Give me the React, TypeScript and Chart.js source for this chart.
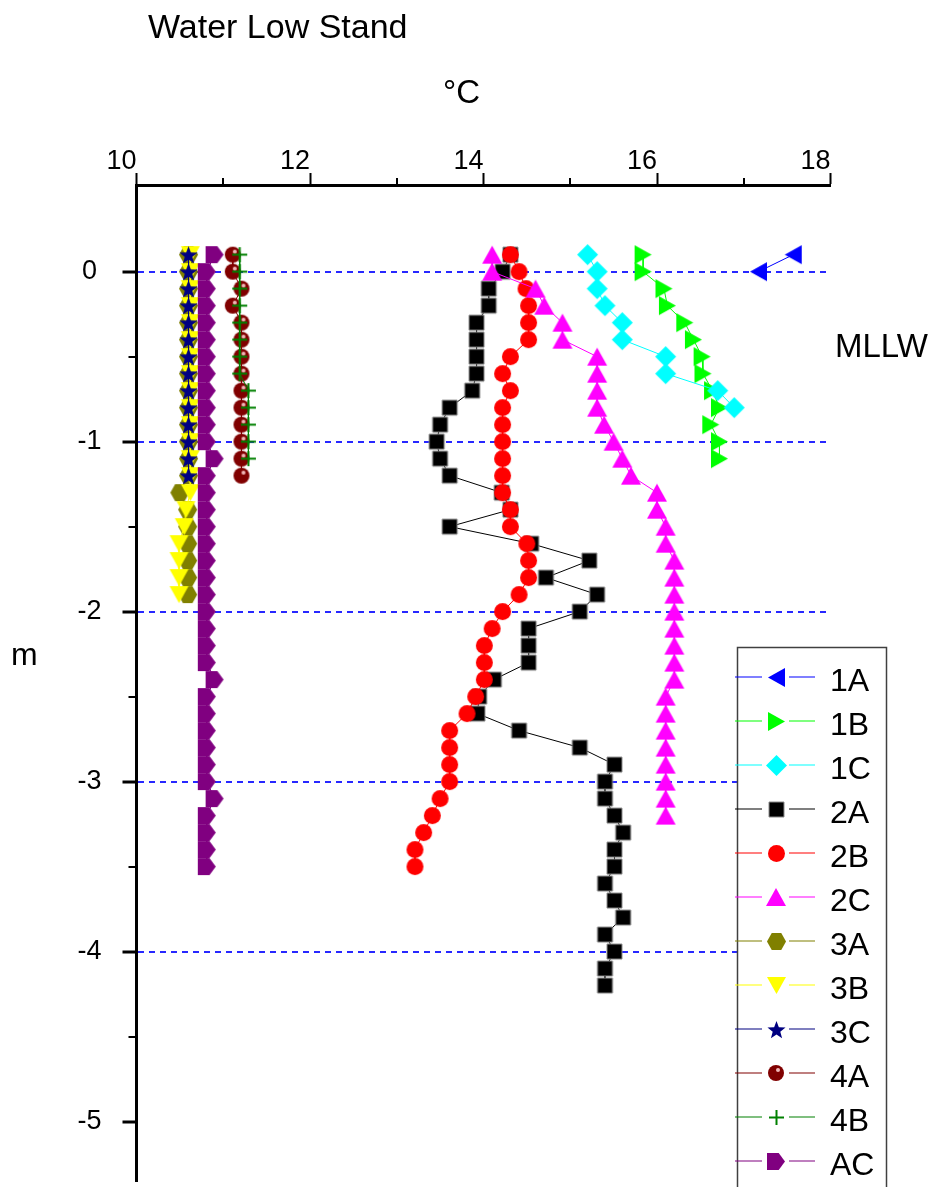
import React, { useEffect, useRef } from 'react';
import { Chart, registerables } from 'chart.js';

Chart.register(...registerables);

const FONT = '"Liberation Sans", Arial, Helvetica, sans-serif';

// ---- axes / labels ----
const titleText = 'Water Low Stand';
const xAxisTitle = '°C';
const yAxisTitle = 'm';
const refLabel = 'MLLW';
const xTicks = [10, 12, 14, 16, 18];
const xMinorTicks = [11, 13, 15, 17];
const yTicks = [0, -1, -2, -3, -4, -5];
const yMinorTicks = [-0.5, -1.5, -2.5, -3.5, -4.5];
const gridDepths = [0, -1, -2, -3, -4];

// ---- series (temperature °C, depth m) ----
const t1A = [17.57, 17.17];
const d1A = [0.1, 0];

const t1B = [15.84, 15.84, 16.08, 16.12, 16.32, 16.42, 16.52, 16.53, 16.64, 16.72, 16.62, 16.72, 16.72];
const d1B = [0.1, 0, -0.1, -0.2, -0.3, -0.4, -0.5, -0.6, -0.7, -0.8, -0.9, -1.0, -1.1];

const t1C = [15.2, 15.31, 15.31, 15.4, 15.6, 15.6, 16.1, 16.1, 16.7, 16.89];
const d1C = [0.1, 0, -0.1, -0.2, -0.3, -0.4, -0.5, -0.6, -0.7, -0.8];

const t2A = [14.31, 14.22, 14.06, 14.06, 13.92, 13.92, 13.92, 13.92, 13.87, 13.61, 13.5, 13.46, 13.5, 13.61, 14.21, 14.31, 13.61, 14.55, 15.22, 14.72, 15.31, 15.11, 14.52, 14.52, 14.52, 14.12, 13.95, 13.93, 14.41, 15.11, 15.51, 15.4, 15.4, 15.51, 15.61, 15.51, 15.51, 15.4, 15.51, 15.61, 15.4, 15.51, 15.4, 15.4];
const d2A = [0.1, 0, -0.1, -0.2, -0.3, -0.4, -0.5, -0.6, -0.7, -0.8, -0.9, -1.0, -1.1, -1.2, -1.3, -1.4, -1.5, -1.6, -1.7, -1.8, -1.9, -2.0, -2.1, -2.2, -2.3, -2.4, -2.5, -2.6, -2.7, -2.8, -2.9, -3.0, -3.1, -3.2, -3.3, -3.4, -3.5, -3.6, -3.7, -3.8, -3.9, -4.0, -4.1, -4.2];

const t2B = [14.31, 14.41, 14.49, 14.52, 14.52, 14.52, 14.31, 14.22, 14.31, 14.22, 14.22, 14.22, 14.22, 14.22, 14.22, 14.31, 14.31, 14.5, 14.52, 14.52, 14.41, 14.22, 14.1, 14.01, 14.01, 14.01, 13.91, 13.81, 13.61, 13.61, 13.61, 13.61, 13.5, 13.41, 13.31, 13.21, 13.21];
const d2B = [0.1, 0, -0.1, -0.2, -0.3, -0.4, -0.5, -0.6, -0.7, -0.8, -0.9, -1.0, -1.1, -1.2, -1.3, -1.4, -1.5, -1.6, -1.7, -1.8, -1.9, -2.0, -2.1, -2.2, -2.3, -2.4, -2.5, -2.6, -2.7, -2.8, -2.9, -3.0, -3.1, -3.2, -3.3, -3.4, -3.5];

const t2C = [14.1, 14.1, 14.6, 14.7, 14.91, 14.91, 15.31, 15.31, 15.31, 15.31, 15.39, 15.5, 15.6, 15.7, 16.0, 16.0, 16.1, 16.1, 16.2, 16.2, 16.2, 16.2, 16.2, 16.2, 16.2, 16.2, 16.1, 16.1, 16.1, 16.1, 16.1, 16.1, 16.1, 16.1];
const d2C = [0.1, 0, -0.1, -0.2, -0.3, -0.4, -0.5, -0.6, -0.7, -0.8, -0.9, -1.0, -1.1, -1.2, -1.3, -1.4, -1.5, -1.6, -1.7, -1.8, -1.9, -2.0, -2.1, -2.2, -2.3, -2.4, -2.5, -2.6, -2.7, -2.8, -2.9, -3.0, -3.1, -3.2];

const t3A = [10.6, 10.6, 10.6, 10.6, 10.6, 10.6, 10.6, 10.6, 10.6, 10.6, 10.6, 10.6, 10.6, 10.6, 10.5, 10.59, 10.59, 10.59, 10.59, 10.59, 10.59];
const d3A = [0.1, 0, -0.1, -0.2, -0.3, -0.4, -0.5, -0.6, -0.7, -0.8, -0.9, -1.0, -1.1, -1.2, -1.3, -1.4, -1.5, -1.6, -1.7, -1.8, -1.9];

const t3B = [10.62, 10.62, 10.62, 10.62, 10.62, 10.62, 10.62, 10.62, 10.62, 10.62, 10.62, 10.62, 10.62, 10.62, 10.62, 10.57, 10.55, 10.49, 10.49, 10.49, 10.49];
const d3B = [0.1, 0, -0.1, -0.2, -0.3, -0.4, -0.5, -0.6, -0.7, -0.8, -0.9, -1.0, -1.1, -1.2, -1.3, -1.4, -1.5, -1.6, -1.7, -1.8, -1.9];

const t3C = [10.6, 10.6, 10.6, 10.6, 10.6, 10.6, 10.6, 10.6, 10.6, 10.6, 10.6, 10.6, 10.6, 10.6];
const d3C = [0.1, 0, -0.1, -0.2, -0.3, -0.4, -0.5, -0.6, -0.7, -0.8, -0.9, -1.0, -1.1, -1.2];

const t4A = [11.11, 11.11, 11.21, 11.11, 11.21, 11.21, 11.21, 11.21, 11.21, 11.21, 11.21, 11.21, 11.21, 11.21];
const d4A = [0.1, 0, -0.1, -0.2, -0.3, -0.4, -0.5, -0.6, -0.7, -0.8, -0.9, -1.0, -1.1, -1.2];

const t4B = [11.19, 11.19, 11.19, 11.19, 11.19, 11.19, 11.19, 11.19, 11.29, 11.29, 11.29, 11.29, 11.29];
const d4B = [0.1, 0, -0.1, -0.2, -0.3, -0.4, -0.5, -0.6, -0.7, -0.8, -0.9, -1.0, -1.1];

const tAC = [10.9, 10.81, 10.81, 10.81, 10.81, 10.81, 10.81, 10.81, 10.81, 10.81, 10.81, 10.81, 10.9, 10.81, 10.81, 10.81, 10.81, 10.81, 10.81, 10.81, 10.81, 10.81, 10.81, 10.81, 10.81, 10.9, 10.81, 10.81, 10.81, 10.81, 10.81, 10.81, 10.9, 10.81, 10.81, 10.81, 10.81];
const dAC = [0.1, 0, -0.1, -0.2, -0.3, -0.4, -0.5, -0.6, -0.7, -0.8, -0.9, -1.0, -1.1, -1.2, -1.3, -1.4, -1.5, -1.6, -1.7, -1.8, -1.9, -2.0, -2.1, -2.2, -2.3, -2.4, -2.5, -2.6, -2.7, -2.8, -2.9, -3.0, -3.1, -3.2, -3.3, -3.4, -3.5];

const seriesNames = ['1A', '1B', '1C', '2A', '2B', '2C', '3A', '3B', '3C', '4A', '4B', 'AC'];
const seriesTemps = [t1A, t1B, t1C, t2A, t2B, t2C, t3A, t3B, t3C, t4A, t4B, tAC];
const seriesDepths = [d1A, d1B, d1C, d2A, d2B, d2C, d3A, d3B, d3C, d4A, d4B, dAC];

// ---- styles ----
type MarkerSpec = { shape: string; fill: string; w: number; h: number; stroke?: string; line: string };
const markerSpecs: MarkerSpec[] = [
  { shape: 'triL', fill: '#0000ff', w: 17, h: 19, line: '#0000ff' },
  { shape: 'triR', fill: '#00ff00', w: 17, h: 19, line: '#00ff00' },
  { shape: 'diamond', fill: '#00ffff', w: 21, h: 21, line: '#00ffff' },
  { shape: 'square', fill: '#000000', w: 15, h: 15, stroke: '#8a8a8a', line: '#000000' },
  { shape: 'circle', fill: '#ff0000', w: 17, h: 17, line: '#ff0000' },
  { shape: 'triU', fill: '#ff00ff', w: 20, h: 18, line: '#ff00ff' },
  { shape: 'hexagon', fill: '#808000', w: 19, h: 17, line: '#808000' },
  { shape: 'triD', fill: '#ffff00', w: 19, h: 17, line: '#ffff00' },
  { shape: 'star', fill: '#000080', w: 19, h: 19, line: '#000080' },
  { shape: 'ball', fill: '#800000', w: 16, h: 16, line: '#800000' },
  { shape: 'plus', fill: '#008000', w: 15, h: 15, line: '#008000' },
  { shape: 'pentagon', fill: '#800080', w: 18, h: 17, line: '#800080' },
];

function makeMarker(s: MarkerSpec): HTMLCanvasElement {
  const pad = 2;
  const cw = Math.ceil(s.w) + pad * 2;
  const ch = Math.ceil(s.h) + pad * 2;
  const c = document.createElement('canvas');
  c.width = cw;
  c.height = ch;
  const g = c.getContext('2d') as CanvasRenderingContext2D;
  const cx = cw / 2, cy = ch / 2, a = s.w / 2, b = s.h / 2;
  g.fillStyle = s.fill;
  if (s.shape === 'plus') {
    g.strokeStyle = s.fill;
    g.lineWidth = 2;
    g.beginPath();
    g.moveTo(cx - a, cy); g.lineTo(cx + a, cy);
    g.moveTo(cx, cy - b); g.lineTo(cx, cy + b);
    g.stroke();
    return c;
  }
  g.beginPath();
  switch (s.shape) {
    case 'triL': g.moveTo(cx - a, cy); g.lineTo(cx + a, cy - b); g.lineTo(cx + a, cy + b); break;
    case 'triR': g.moveTo(cx + a, cy); g.lineTo(cx - a, cy - b); g.lineTo(cx - a, cy + b); break;
    case 'triU': g.moveTo(cx, cy - b); g.lineTo(cx + a, cy + b); g.lineTo(cx - a, cy + b); break;
    case 'triD': g.moveTo(cx, cy + b); g.lineTo(cx + a, cy - b); g.lineTo(cx - a, cy - b); break;
    case 'diamond': g.moveTo(cx, cy - b); g.lineTo(cx + a, cy); g.lineTo(cx, cy + b); g.lineTo(cx - a, cy); break;
    case 'square': g.rect(cx - a, cy - b, s.w, s.h); break;
    case 'circle':
    case 'ball': g.ellipse(cx, cy, a, b, 0, 0, Math.PI * 2); break;
    case 'hexagon':
      g.moveTo(cx - a, cy); g.lineTo(cx - a / 2, cy - b); g.lineTo(cx + a / 2, cy - b);
      g.lineTo(cx + a, cy); g.lineTo(cx + a / 2, cy + b); g.lineTo(cx - a / 2, cy + b); break;
    case 'pentagon':
      g.moveTo(cx - a, cy - b); g.lineTo(cx + a * 0.3, cy - b); g.lineTo(cx + a, cy);
      g.lineTo(cx + a * 0.3, cy + b); g.lineTo(cx - a, cy + b); break;
    case 'star':
      for (let k = 0; k < 10; k++) {
        const r = k % 2 === 0 ? a : a * 0.42;
        const ang = -Math.PI / 2 + (k * Math.PI) / 5;
        const px = cx + r * Math.cos(ang), py = cy + 1 + r * Math.sin(ang);
        if (k === 0) g.moveTo(px, py); else g.lineTo(px, py);
      }
      break;
  }
  g.closePath();
  g.fill();
  if (s.stroke) {
    g.strokeStyle = s.stroke;
    g.lineWidth = 1;
    g.stroke();
  }
  if (s.shape === 'ball') {
    g.fillStyle = '#f0b8b8';
    g.beginPath();
    g.arc(cx + 2, cy - 3, 2, 0, Math.PI * 2);
    g.fill();
  }
  return c;
}

export default function App() {
  const ref = useRef<HTMLCanvasElement>(null);

  useEffect(() => {
    if (!ref.current) return;
    Chart.defaults.font.family = FONT;
    const markers = markerSpecs.map(makeMarker);

    const datasets = seriesNames.map((name, i) => ({
      label: name,
      data: seriesTemps[i].map((t, j) => ({ x: t, y: seriesDepths[i][j] })),
      showLine: true,
      borderColor: markerSpecs[i].line,
      backgroundColor: markerSpecs[i].fill,
      borderWidth: 1,
      pointStyle: markers[i],
      pointRadius: 6,
      pointHoverRadius: 6,
      pointBorderWidth: 0,
      tension: 0,
      fill: false,
      order: -i,
    }));

    const decor = {
      id: 'decor',
      afterDraw(chart: any) {
        const ctx: CanvasRenderingContext2D = chart.ctx;
        const xs = chart.scales.x;
        const ys = chart.scales.y;
        const area = chart.chartArea;
        ctx.save();
        // minor ticks
        ctx.strokeStyle = '#000';
        ctx.lineWidth = 2;
        xMinorTicks.forEach((v) => {
          const px = Math.round(xs.getPixelForValue(v));
          ctx.beginPath();
          ctx.moveTo(px, area.top - 1);
          ctx.lineTo(px, area.top - 7);
          ctx.stroke();
        });
        yMinorTicks.forEach((v) => {
          const py = Math.round(ys.getPixelForValue(v));
          ctx.beginPath();
          ctx.moveTo(area.left - 1, py);
          ctx.lineTo(area.left - 8, py);
          ctx.stroke();
        });
        // texts
        ctx.fillStyle = '#000';
        ctx.textBaseline = 'alphabetic';
        ctx.textAlign = 'left';
        ctx.font = `34px ${FONT}`;
        ctx.fillText(titleText, 148, 38);
        ctx.font = `33px ${FONT}`;
        ctx.fillText(xAxisTitle, 443, 103);
        ctx.font = `33px ${FONT}`;
        ctx.fillText(refLabel, 835, 357);
        ctx.font = `32px ${FONT}`;
        ctx.fillText(yAxisTitle, 11, 665);

        // legend
        const bx = 737, by = 647, bw = 149;
        ctx.fillStyle = '#ffffff';
        ctx.fillRect(bx, by, bw, 1187 - by + 10);
        ctx.strokeStyle = '#404040';
        ctx.lineWidth = 1.5;
        ctx.strokeRect(bx + 0.5, by + 0.5, bw, 1187 - by + 20);
        seriesNames.forEach((name, i) => {
          const y = 677 + i * 44;
          ctx.strokeStyle = markerSpecs[i].line;
          ctx.lineWidth = 1.2;
          ctx.beginPath();
          ctx.moveTo(735, y); ctx.lineTo(762, y);
          ctx.moveTo(789, y); ctx.lineTo(815, y);
          ctx.stroke();
          const m = markers[i];
          ctx.drawImage(m, Math.round(776 - m.width / 2), Math.round(y - m.height / 2));
          ctx.fillStyle = '#000';
          ctx.font = `32px ${FONT}`;
          ctx.textBaseline = 'middle';
          ctx.fillText(name, 830, y + 5);
        });
        ctx.restore();
      },
    };

    const chart = new Chart(ref.current, {
      type: 'scatter',
      data: { datasets: datasets as any },
      options: {
        responsive: false,
        animation: false,
        devicePixelRatio: 1,
        events: [],
        layout: { padding: { left: 0, right: 107.5, top: 0, bottom: 0 } },
        plugins: { legend: { display: false }, tooltip: { enabled: false } },
        scales: {
          x: {
            type: 'linear',
            position: 'top',
            min: 10,
            max: 18,
            afterBuildTicks: (scale: any) => {
              scale.ticks = xTicks.map((v) => ({ value: v }));
            },
            afterFit: (scale: any) => {
              scale.height = 185;
              scale.paddingLeft = 0;
              scale.paddingRight = 0;
            },
            ticks: {
              align: 'end',
              padding: -2,
              color: '#000',
              font: { family: FONT, size: 27, lineHeight: 1 },
              callback: (v: any) => String(v),
            },
            grid: {
              display: true,
              drawOnChartArea: false,
              drawTicks: true,
              tickLength: 12,
              tickWidth: 2,
              tickColor: '#000',
            },
            border: { display: true, color: '#000', width: 3 },
          },
          y: {
            type: 'linear',
            position: 'left',
            min: -5.35,
            max: 0.51,
            afterBuildTicks: (scale: any) => {
              scale.ticks = yTicks.map((v) => ({ value: v }));
            },
            afterFit: (scale: any) => {
              scale.width = 136.5;
              scale.paddingTop = 0;
              scale.paddingBottom = 0;
            },
            ticks: {
              crossAlign: 'center',
              padding: 21,
              color: '#000',
              font: { family: FONT, size: 27 },
              callback: (v: any) => String(v),
            },
            grid: {
              display: true,
              drawOnChartArea: true,
              color: (c: any) => (c.tick && gridDepths.includes(c.tick.value) ? '#2828ff' : 'rgba(0,0,0,0)'),
              lineWidth: 2,
              drawTicks: true,
              tickLength: 14,
              tickWidth: 3,
              tickColor: '#000',
            },
            border: { display: true, color: '#000', width: 3, dash: [6, 5] },
          },
        },
      } as any,
      plugins: [decor],
    });
    return () => chart.destroy();
  }, []);

  return (
    <div style={{ position: 'absolute', left: 0, top: 0, width: 938, height: 1187, background: '#fff' }}>
      <canvas ref={ref} width={938} height={1187} style={{ width: 938, height: 1187, display: 'block' }} />
    </div>
  );
}
